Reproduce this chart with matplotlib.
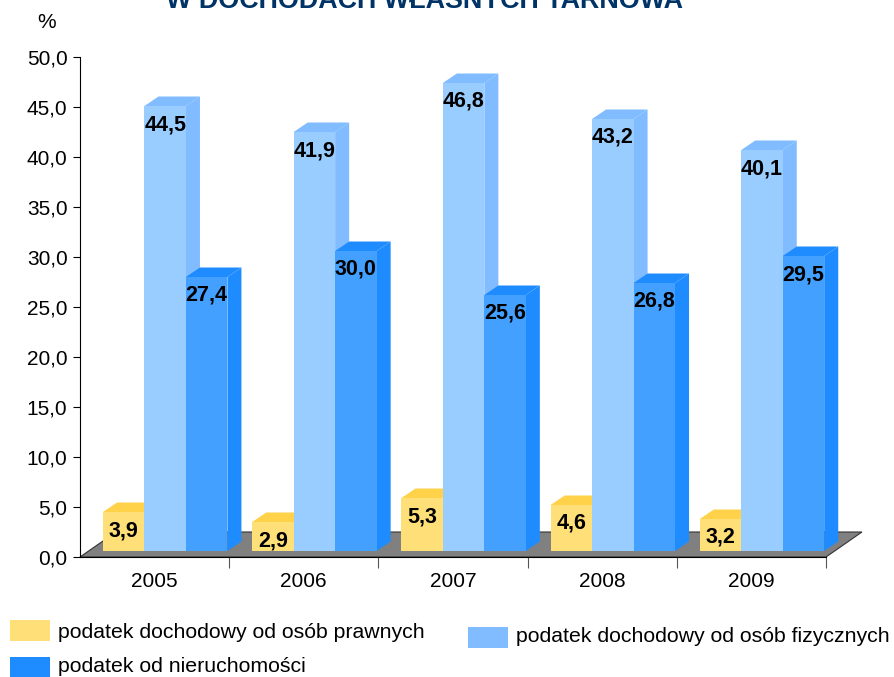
import matplotlib

matplotlib.use("Agg")
import matplotlib.pyplot as plt
from matplotlib.patches import Polygon, Rectangle

plt.rcParams["font.family"] = ["Liberation Sans", "DejaVu Sans"]

years = ["2005", "2006", "2007", "2008", "2009"]
series_names = [
    "podatek dochodowy od osób prawnych",
    "podatek dochodowy od osób fizycznych",
    "podatek od nieruchomości",
]
cit_share = [3.9, 2.9, 5.3, 4.6, 3.2]
pit_share = [44.5, 41.9, 46.8, 43.2, 40.1]
property_share = [27.4, 30.0, 25.6, 26.8, 29.5]

# front / top / side shades per series
shades = [
    ("#ffdf78", "#ffd24a", "#ffd24a"),
    ("#99ccff", "#80bcff", "#80bcff"),
    ("#44a0ff", "#1e8cff", "#1e8cff"),
]
swatches = ["#ffdf78", "#80bcff", "#1e8cff"]

W, H = 894, 677
fig = plt.figure(figsize=(W / 100, H / 100), dpi=100)
ax = fig.add_axes([80 / W, (H - 557) / H, 746 / W, 500 / H])
ax.set_xlim(0, 5)
ax.set_ylim(0, 50)

# pseudo-3D geometry (data units)
bar_w = 0.278
bar_x0 = 0.154
dep_x, dep_y = 0.094, 0.95
base = 0.6
floor_dx, floor_dy = 0.241, 2.5

floor = Polygon(
    [(0, 0), (5, 0), (5 + floor_dx, floor_dy), (floor_dx, floor_dy)],
    closed=True, facecolor="#808080", edgecolor="#333333", linewidth=0.8,
    clip_on=False, zorder=1,
)
ax.add_patch(floor)

for i in range(len(years)):
    for j, values in enumerate([cit_share, pit_share, property_share]):
        v = values[i]
        front, top, side = shades[j]
        x0 = i + bar_x0 + j * bar_w
        x1 = x0 + bar_w
        y0 = base
        y1 = base + v
        ax.add_patch(Polygon(
            [(x1, y0), (x1 + dep_x, y0 + dep_y), (x1 + dep_x, y1 + dep_y), (x1, y1)],
            closed=True, facecolor=side, edgecolor="none", clip_on=False, zorder=2,
        ))
        ax.add_patch(Polygon(
            [(x0, y1), (x1, y1), (x1 + dep_x, y1 + dep_y), (x0 + dep_x, y1 + dep_y)],
            closed=True, facecolor=top, edgecolor="none", clip_on=False, zorder=2,
        ))
        ax.add_patch(Rectangle(
            (x0, y0), bar_w, v, facecolor=front, edgecolor="none",
            clip_on=False, zorder=2,
        ))
        ax.text(
            (x0 + x1) / 2, y1 - 1.85, f"{v:.1f}".replace(".", ","),
            ha="center", va="center", fontsize=15.5, fontweight="bold",
            color="black", zorder=3,
        )

for side_name in ["top", "right"]:
    ax.spines[side_name].set_visible(False)
ax.spines["left"].set_zorder(4)
ax.spines["bottom"].set_zorder(4)

yt = list(range(0, 51, 5))
ax.set_yticks(yt)
ax.set_yticklabels([f"{t:.1f}".replace(".", ",") for t in yt])
ax.tick_params(axis="y", length=5, pad=4, labelsize=15)

ax.set_xticks(range(1, 6))
ax.set_xticklabels([])
ax.set_xticks([i + 0.5 for i in range(5)], minor=True)
ax.set_xticklabels(years, minor=True)
ax.tick_params(axis="x", which="major", length=8, color="#555555")
ax.tick_params(axis="x", which="minor", length=0, pad=11, labelsize=15)

fig.text(47 / W, 1 - 22 / H, "%", ha="center", va="center", fontsize=15)
fig.text(424 / W, 1 - 8 / H, "W DOCHODACH WŁASNYCH TARNOWA", ha="center",
         va="baseline", fontsize=19.4, fontweight="bold", color="#003366")

# legend
legend_items = [
    (10, 620, 58, 632),
    (468, 627, 516, 637),
    (10, 657, 58, 667),
]
for (sx, sy, tx, ty), name, col in zip(legend_items, series_names, swatches):
    fig.patches.append(Rectangle(
        (sx / W, 1 - (sy + 21) / H), 40 / W, 21 / H,
        transform=fig.transFigure, facecolor=col, edgecolor="none",
    ))
    fig.text(tx / W, 1 - ty / H, name, ha="left", va="center", fontsize=15.3)

fig.savefig("out.png", dpi=100)
